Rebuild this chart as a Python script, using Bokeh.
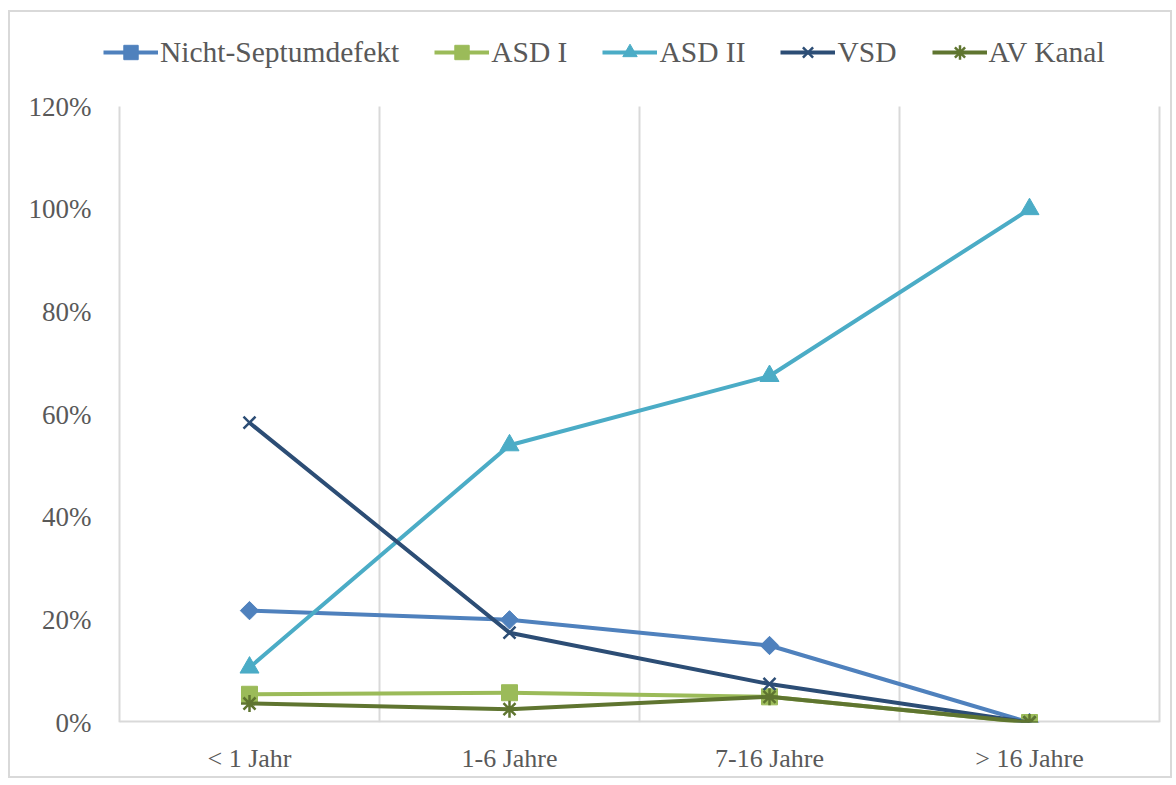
from bokeh.plotting import figure
from bokeh.models import (Range1d, FixedTicker, NumeralTickFormatter, Legend, LegendItem,
                          ColumnDataSource)
from bokeh.embed import file_html
from bokeh.resources import INLINE
import math

categories = ["< 1 Jahr", "1-6 Jahre", "7-16 Jahre", "> 16 Jahre"]
nicht_septum = [0.218, 0.200, 0.150, 0.0]
asd_1 = [0.055, 0.058, 0.050, 0.0]
asd_2 = [0.107, 0.540, 0.675, 1.0]
vsd = [0.584, 0.175, 0.075, 0.0]
av_kanal = [0.037, 0.026, 0.050, 0.0]
y_ticks = [0.0, 0.2, 0.4, 0.6, 0.8, 1.0, 1.2]

series = [
    ("Nicht-Septumdefekt", nicht_septum, "#4F81BD", "diamond"),
    ("ASD I", asd_1, "#9BBB59", "square"),
    ("ASD II", asd_2, "#4BACC6", "triangle"),
    ("VSD", vsd, "#2C4D75", "x"),
    ("AV Kanal", av_kanal, "#5F7530", "asterisk"),
]

FONT = "Liberation Serif"
TXT = "#595959"
GRID = "#D9D9D9"

# layout (pixels)
W, H = 1164, 768
TOP, BOTTOM, LEFT, RIGHT = 8, 58, 93, 13
FRAME_H = H - TOP - BOTTOM          # full frame height
PLOT_H = 616                         # height of the 0..120% region
PX_PER_CAT = 260                     # width of one category band
LEFT_EXTRA, RIGHT_EXTRA = 16, 2      # frame room outside the category bands
y_max = y_ticks[-1] * FRAME_H / PLOT_H   # room above 120% for the legend
n = len(categories)

p = figure(width=W, height=H, output_backend="svg", toolbar_location=None,
           x_range=Range1d(0.5 - LEFT_EXTRA / PX_PER_CAT, n + 0.5 + RIGHT_EXTRA / PX_PER_CAT),
           y_range=Range1d(0, y_max),
           min_border_left=LEFT, min_border_right=RIGHT, min_border_top=TOP,
           min_border_bottom=BOTTOM,
           styles={"border": "2px solid #D9D9D9", "margin-left": "8px", "margin-top": "10px"})
p.outline_line_color = None
p.background_fill_color = "white"
p.border_fill_color = "white"

xs = list(range(1, n + 1))

# axes
p.xaxis.ticker = FixedTicker(ticks=xs)
p.xaxis.major_label_overrides = {i + 1: c for i, c in enumerate(categories)}
p.xaxis.axis_line_color = None
p.xaxis.major_tick_line_color = None
p.xaxis.minor_tick_line_color = None
p.xaxis.major_label_text_font = FONT
p.xaxis.major_label_text_font_size = "26px"
p.xaxis.major_label_text_color = TXT
p.xaxis.major_label_standoff = 15

p.yaxis.ticker = FixedTicker(ticks=y_ticks)
p.yaxis.formatter = NumeralTickFormatter(format="0%")
p.yaxis.axis_line_color = None
p.yaxis.major_tick_line_color = None
p.yaxis.minor_tick_line_color = None
p.yaxis.major_label_text_font = FONT
p.yaxis.major_label_text_font_size = "27px"
p.yaxis.major_label_text_color = TXT
p.yaxis.major_label_standoff = 6

p.ygrid.grid_line_color = None
p.xgrid.grid_line_color = None

# vertical category-boundary gridlines (only up to 120%) and the category axis line
bounds = [x - 0.5 for x in xs] + [xs[-1] + 0.5]
p.segment(x0=bounds, x1=bounds, y0=[y_ticks[0]] * len(bounds), y1=[y_ticks[-1]] * len(bounds),
          line_color=GRID, line_width=2)
p.segment(x0=[bounds[0]], x1=[bounds[-1]], y0=[y_ticks[0]], y1=[y_ticks[0]],
          line_color=GRID, line_width=4)

items = []
for name, vals, color, marker in series:
    src = ColumnDataSource(dict(x=xs, y=vals))
    ln = p.line("x", "y", source=src, line_color=color, line_width=4)
    if marker == "diamond":
        mk = p.scatter("x", "y", source=src, marker="square", size=13, angle=math.pi / 4,
                       fill_color=color, line_color=color)
    elif marker == "square":
        mk = p.scatter("x", "y", source=src, marker="square", size=16,
                       fill_color=color, line_color=color)
    elif marker == "triangle":
        mk = p.scatter("x", "y", source=src, marker="triangle", size=19,
                       fill_color=color, line_color=color)
    else:
        mk = p.scatter("x", "y", source=src, marker=marker, size=17,
                       line_color=color, line_width=2.5)
    items.append(LegendItem(label=name, renderers=[ln, mk]))

LEG_H = 36
legend = Legend(items=items, orientation="horizontal",
                location=(0, PLOT_H + 54 - LEG_H // 2),
                label_text_font=FONT, label_text_font_size="29.5px", label_text_color=TXT,
                glyph_width=55, glyph_height=LEG_H, label_standoff=2, spacing=35,
                border_line_color=None, background_fill_alpha=0, margin=0, padding=0)
p.add_layout(legend, "center")

open("out.html", "w").write(file_html(p, INLINE))
